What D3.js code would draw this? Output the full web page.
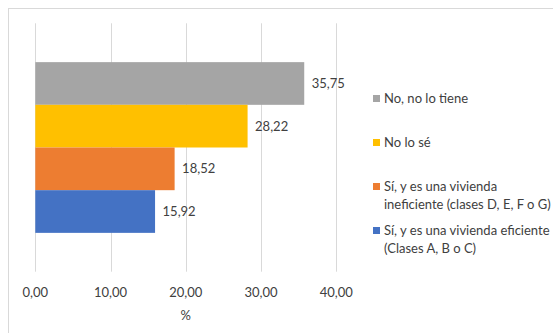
<!DOCTYPE html>
<html>
<head>
<meta charset="utf-8">
<script src="https://cdn.jsdelivr.net/npm/d3@7"></script>
<style>
  body { margin: 0; background: #fff; }
  svg { display: block; font-family: Lato, "Open Sans", sans-serif; }
</style>
</head>
<body>
<script>
const w = 553
const h = 333

// data
const series = ['No, no lo tiene', 'No lo sé', 'Sí, y es una vivienda ineficiente (clases D, E, F o G)', 'Sí, y es una vivienda eficiente (Clases A, B o C)']
const values = [35.75, 28.22, 18.52, 15.92]
const colors = ['#A5A5A5', '#FFC000', '#ED7D31', '#4472C4']
const legendLines = [['No, no lo tiene'], ['No lo sé'], ['Sí, y es una vivienda', 'ineficiente (clases D, E, F o G)'], ['Sí, y es una vivienda eficiente', '(Clases A, B o C)']]
const ticks = [0, 10, 20, 30, 40]

const fmt = v => v.toFixed(2).replace('.', ',')

const svg = d3.select('body').append('svg')
  .attr('width', w)
  .attr('height', h)

// chart frame
svg.append('rect')
  .attr('x', 8.5)
  .attr('y', 8.5)
  .attr('width', w)
  .attr('height', h)
  .attr('fill', 'none')
  .attr('stroke', '#D9D9D9')

const x = d3.scaleLinear()
  .domain([0, 40])
  .range([35.3, 336.2])

const y = d3.scaleBand()
  .domain(series)
  .range([23.3, 271.7])
  .paddingInner(0)
  .paddingOuter(0.91)

// gridlines
svg.selectAll('line.grid')
  .data(ticks)
  .enter()
  .append('line')
  .attr('class', 'grid')
  .attr('x1', d => Math.round(x(d)) + 0.5)
  .attr('x2', d => Math.round(x(d)) + 0.5)
  .attr('y1', 23.3)
  .attr('y2', 271.7)
  .attr('stroke', '#D9D9D9')
  .attr('stroke-width', 1)

// bars
svg.selectAll('rect.bar')
  .data(values)
  .enter()
  .append('rect')
  .attr('class', 'bar')
  .attr('x', x(0))
  .attr('y', (d, i) => y(series[i]))
  .attr('width', d => x(d) - x(0))
  .attr('height', y.bandwidth())
  .attr('fill', (d, i) => colors[i])

// data labels
svg.selectAll('text.lbl')
  .data(values)
  .enter()
  .append('text')
  .attr('class', 'lbl')
  .attr('x', d => x(d) + 7.5)
  .attr('y', (d, i) => y(series[i]) + y.bandwidth() / 2)
  .attr('dy', '0.35em')
  .attr('font-size', 13)
  .attr('fill', '#404040')
  .text(d => fmt(d))

// x axis tick labels
svg.selectAll('text.tick')
  .data(ticks)
  .enter()
  .append('text')
  .attr('class', 'tick')
  .attr('x', d => x(d))
  .attr('y', 292)
  .attr('dy', '0.35em')
  .attr('text-anchor', 'middle')
  .attr('font-size', 13)
  .attr('fill', '#404040')
  .text(d => fmt(d))

svg.append('text')
  .attr('x', x(20))
  .attr('y', 315)
  .attr('dy', '0.35em')
  .attr('text-anchor', 'middle')
  .attr('font-size', 13)
  .attr('fill', '#404040')
  .text('%')

// legend
const legend = svg.selectAll('g.leg')
  .data(series)
  .enter()
  .append('g')
  .attr('class', 'leg')
  .attr('transform', (d, i) => `translate(373, ${98.5 + i * 44})`)

legend.append('rect')
  .attr('x', 0)
  .attr('y', -3.5)
  .attr('width', 7)
  .attr('height', 7)
  .attr('fill', (d, i) => colors[i])

legend.each(function (d, i) {
  const t = d3.select(this).append('text')
    .attr('font-size', 13)
    .attr('fill', '#404040')
  legendLines[i].forEach((line, j) => {
    t.append('tspan')
      .attr('x', 11)
      .attr('y', j * 17.7)
      .attr('dy', '0.35em')
      .text(line)
  })
})
</script>
</body>
</html>
